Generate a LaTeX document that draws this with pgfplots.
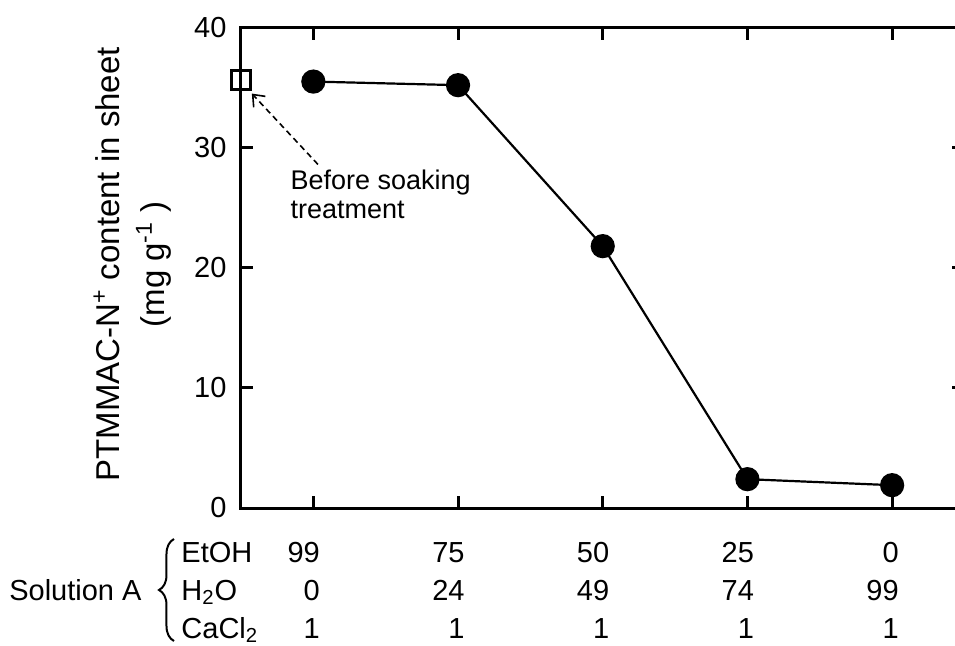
\documentclass[border=0pt]{standalone}
\usepackage{fontspec}
\setmainfont{Liberation Sans}
\usepackage{pgfplots}
\pgfplotsset{compat=1.18}
\usetikzlibrary{decorations.pathreplacing,arrows.meta}

\newcommand{\tabfont}{\fontsize{14.5}{17}\selectfont}

\begin{document}
\begin{tikzpicture}
\begin{axis}[
  at={(0,0)}, anchor=south west,
  scale only axis, width=361.75pt, height=240.25pt,
  xmin=-0.5, xmax=4.5, ymin=0, ymax=40,
  xtick={0,1,2,3,4}, xticklabels={},
  ytick={0,10,20,30,40},
  line width=1.5pt,
  tick align=inside, major tick length=6pt,
  axis line style={line width=1.5pt},
  major tick style={black, line width=1.5pt},
  clip=false,
  /pgf/number format/assume math mode=true,
  tick label style={font=\tabfont},
  yticklabel style={anchor=east, inner sep=0pt, xshift=-6.5pt},
  ylabel={PTMMAC-N\textsuperscript{+} content in sheet\\(mg g\textsuperscript{-1} )},
  ylabel style={align=center, font=\fontsize{16.5}{22.5}\selectfont,
    at={(axis description cs:-0.150,0.507)}, anchor=center},
]
% PTMMAC-N+ content after soaking in each solution
\addplot[black, line width=1.1pt, mark=*, mark size=5.5pt]
  coordinates {(0,35.5) (1,35.2) (2,21.8) (3,2.4) (4,1.9)};
% content before the soaking treatment
\addplot[black, only marks, mark=square, mark size=4.7pt,
  mark options={fill=white, line width=1.5pt}]
  coordinates {(-0.5,35.6)};

\draw[black, dashed, dash pattern=on 3pt off 2pt, line width=0.8pt,
  -{Straight Barb[length=5pt,width=8pt]}]
  (axis cs:0.032,28.6) -- (axis cs:-0.425,34.5);
\node[anchor=base west, inner sep=0pt, font=\fontsize{13.5}{14.5}\selectfont]
  at (axis cs:-0.168,26.5) {Before soaking};
\node[anchor=base west, inner sep=0pt, font=\fontsize{13.5}{14.5}\selectfont]
  at (axis cs:-0.168,24.1) {treatment};

% composition of solution A
\node[anchor=base west, inner sep=0pt, font=\tabfont] at ([xshift=-30.5pt,yshift=-27pt]rel axis cs:0,0) {EtOH};
\node[anchor=base west, inner sep=0pt, font=\tabfont] at ([xshift=-30.5pt,yshift=-46pt]rel axis cs:0,0) {H\textsubscript{2}O};
\node[anchor=base west, inner sep=0pt, font=\tabfont] at ([xshift=-30.5pt,yshift=-65pt]rel axis cs:0,0) {CaCl\textsubscript{2}};
\node[anchor=base east, inner sep=0pt, font=\tabfont] at ([xshift=-49pt,yshift=-46pt]rel axis cs:0,0) {Solution A};
\draw[black, line width=1pt, decorate, decoration={brace, amplitude=7.5pt}]
  ([xshift=-33.5pt,yshift=-66.5pt]rel axis cs:0,0) -- ([xshift=-33.5pt,yshift=-15.5pt]rel axis cs:0,0);

\node[anchor=base east, inner sep=0pt, font=\tabfont] at ([xshift=4pt,yshift=-27pt]axis cs:0,0) {99};
\node[anchor=base east, inner sep=0pt, font=\tabfont] at ([xshift=4pt,yshift=-27pt]axis cs:1,0) {75};
\node[anchor=base east, inner sep=0pt, font=\tabfont] at ([xshift=4pt,yshift=-27pt]axis cs:2,0) {50};
\node[anchor=base east, inner sep=0pt, font=\tabfont] at ([xshift=4pt,yshift=-27pt]axis cs:3,0) {25};
\node[anchor=base east, inner sep=0pt, font=\tabfont] at ([xshift=4pt,yshift=-27pt]axis cs:4,0) {0};

\node[anchor=base east, inner sep=0pt, font=\tabfont] at ([xshift=4pt,yshift=-46pt]axis cs:0,0) {0};
\node[anchor=base east, inner sep=0pt, font=\tabfont] at ([xshift=4pt,yshift=-46pt]axis cs:1,0) {24};
\node[anchor=base east, inner sep=0pt, font=\tabfont] at ([xshift=4pt,yshift=-46pt]axis cs:2,0) {49};
\node[anchor=base east, inner sep=0pt, font=\tabfont] at ([xshift=4pt,yshift=-46pt]axis cs:3,0) {74};
\node[anchor=base east, inner sep=0pt, font=\tabfont] at ([xshift=4pt,yshift=-46pt]axis cs:4,0) {99};

\node[anchor=base east, inner sep=0pt, font=\tabfont] at ([xshift=4pt,yshift=-65pt]axis cs:0,0) {1};
\node[anchor=base east, inner sep=0pt, font=\tabfont] at ([xshift=4pt,yshift=-65pt]axis cs:1,0) {1};
\node[anchor=base east, inner sep=0pt, font=\tabfont] at ([xshift=4pt,yshift=-65pt]axis cs:2,0) {1};
\node[anchor=base east, inner sep=0pt, font=\tabfont] at ([xshift=4pt,yshift=-65pt]axis cs:3,0) {1};
\node[anchor=base east, inner sep=0pt, font=\tabfont] at ([xshift=4pt,yshift=-65pt]axis cs:4,0) {1};
\end{axis}
% the page ends just past the right-hand spine
\pgfresetboundingbox
\useasboundingbox (-120.5pt,-68.5pt) rectangle (357pt,254pt);
\end{tikzpicture}
\end{document}
